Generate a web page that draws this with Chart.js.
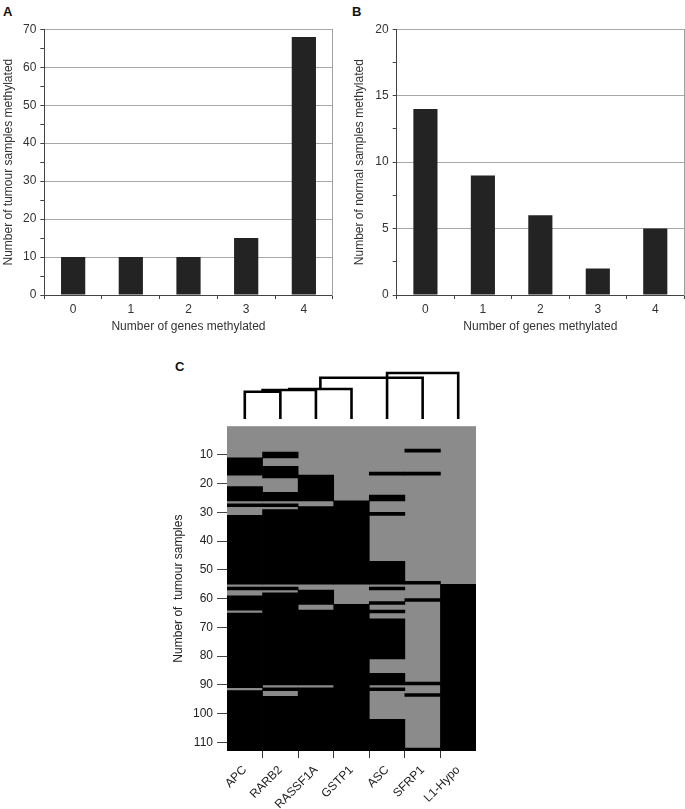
<!DOCTYPE html>
<html lang="en">
<head>
<meta charset="UTF-8" />
<title>Gene methylation in tumour and normal samples</title>
<script src="https://cdn.jsdelivr.net/npm/chart.js@4.4.1/dist/chart.umd.min.js"></script>
<style>
  body { margin: 0; width: 685px; height: 809px; position: relative; background: #fff; overflow: hidden;
         font-family: 'Liberation Sans', Arial, sans-serif; }
  .panel { position: absolute; font-weight: bold; font-size: 13px; color: #111; }
  canvas { position: absolute; }
</style>
</head>
<body>
<div class="panel" style="left:3px;top:4px">A</div>
<div class="panel" style="left:352px;top:4px">B</div>
<div class="panel" style="left:175px;top:359px">C</div>
<canvas id="chartA" width="340" height="330" style="left:0;top:14px"></canvas>
<canvas id="chartB" width="345" height="330" style="left:340px;top:14px"></canvas>
<canvas id="dendro" width="249" height="55" style="left:227px;top:364px"></canvas>
<canvas id="heat" width="320" height="394" style="left:170px;top:415px"></canvas>

<script>
// panels A and B
const geneCounts = ['0', '1', '2', '3', '4'];
const tumourSamples = [10, 10, 10, 15, 68];
const normalSamples = [14, 9, 6, 2, 5];

// panel C: rows (samples) where each gene is methylated, as [from, to]
const genes = ['APC', 'RARB2', 'RASSF1A', 'GSTP1', 'ASC', 'SFRP1', 'L1-Hypo'];
const sampleTicks = [10, 20, 30, 40, 50, 60, 70, 80, 90, 100, 110];
const nSamples = 113;
const apcRuns = [[11, 17], [21, 26], [27, 28], [31, 55], [56, 57], [59, 64], [65, 91], [92, 113]];
const rarb2Runs = [[9, 11], [14, 18], [23, 26], [27, 28], [29, 55], [56, 57], [58, 90], [91, 92], [94, 113]];
const rassf1aRuns = [[17, 26], [28, 55], [57, 62], [64, 90], [91, 113]];
const gstp1Runs = [[26, 55], [62, 113]];
const ascRuns = [[16, 17], [24, 26], [30, 31], [47, 55], [56, 57], [61, 62], [64, 65], [67, 81], [86, 90], [91, 92], [102, 113]];
const sfrp1Runs = [[8, 9], [16, 17], [54, 55], [60, 61], [89, 90], [93, 94], [112, 113]];
const l1HypoRuns = [[55, 113]];

// dendrogram merges (x in column units, heights in tree units)
const dendroLeftX = [0, 0.5, 1.25, 2.125, 4];
const dendroRightX = [1, 2, 3, 5, 6];
const dendroLeftBase = [0, 27.3, 29, 30, 0];
const dendroRightBase = [0, 0, 0, 0, 0];
const dendroHeight = [27.3, 29, 30, 41.3, 46];

Chart.defaults.font.family = "'Liberation Sans', Arial, sans-serif";
Chart.defaults.font.size = 12;
Chart.defaults.color = '#333';
Chart.defaults.animation = false;
Chart.defaults.plugins.legend.display = false;
Chart.defaults.plugins.tooltip.enabled = false;

function barChart(id, values, max, step, labelStep, yTitle, yWidth, titlePad, padding) {
  return new Chart(document.getElementById(id), {
    type: 'bar',
    data: {
      labels: geneCounts,
      datasets: [{
        data: values,
        backgroundColor: '#232323',
        barPercentage: 0.42,
        categoryPercentage: 1
      }]
    },
    options: {
      responsive: false,
      layout: { padding: padding },
      scales: {
        x: {
          offset: true,
          grid: { offset: true, drawOnChartArea: false, tickLength: 4, tickColor: '#444' },
          border: { color: '#444' },
          ticks: { padding: 3, color: '#333' },
          title: { display: true, text: 'Number of genes methylated', color: '#333', padding: { top: 0, bottom: 10 } },
          afterFit: s => { s.height = 49; }
        },
        y: {
          min: 0,
          max: max,
          ticks: {
            stepSize: step,
            padding: 4,
            color: '#333',
            callback: v => (v % labelStep === 0 ? v : '')
          },
          grid: {
            tickLength: 4,
            tickColor: '#444',
            color: c => (c.tick && c.tick.value > 0 && c.tick.value % labelStep === 0 ? '#a8a8a8' : 'rgba(0,0,0,0)')
          },
          border: { color: '#444' },
          title: { display: true, text: yTitle, color: '#333', padding: { top: titlePad, bottom: 0 } },
          afterFit: s => { s.width = yWidth; }
        },
        y2: {
          position: 'right',
          ticks: { display: false },
          grid: { display: false, drawTicks: false },
          border: { color: '#a0a0a0' },
          afterFit: s => { s.width = 0; }
        }
      }
    }
  });
}

barChart('chartA', tumourSamples, 70, 5, 10, 'Number of tumour samples methylated', 44.3, 1,
  { top: 15.3, right: 7.3, bottom: 0, left: 0 });
barChart('chartB', normalSamples, 20, 2.5, 5, 'Number of normal samples methylated', 56.7, 12.8,
  { top: 15.3, right: 1, bottom: 0, left: 0 });

// dendrogram above the heatmap
const dendroSets = dendroHeight.map((h, i) => ({
  data: [
    { x: dendroLeftX[i], y: dendroLeftBase[i] },
    { x: dendroLeftX[i], y: h },
    { x: dendroRightX[i], y: h },
    { x: dendroRightX[i], y: dendroRightBase[i] }
  ],
  showLine: true,
  borderColor: '#000',
  borderWidth: 2.6,
  borderJoinStyle: 'miter',
  pointRadius: 0,
  clip: false
}));

new Chart(document.getElementById('dendro'), {
  type: 'scatter',
  data: { datasets: dendroSets },
  options: {
    responsive: false,
    layout: { padding: 0 },
    scales: {
      x: { type: 'linear', min: -0.5, max: genes.length - 0.5, display: false },
      y: { min: 0, max: 55, display: false }
    }
  }
});

// heatmap
const runsByGene = [apcRuns, rarb2Runs, rassf1aRuns, gstp1Runs, ascRuns, sfrp1Runs, l1HypoRuns];
const cells = [];
runsByGene.forEach((runs, i) => runs.forEach(r => cells.push({ x: genes[i], y: r })));

const areaFill = {
  id: 'areaFill',
  beforeDatasetsDraw(chart, args, opts) {
    const a = chart.chartArea;
    chart.ctx.save();
    chart.ctx.fillStyle = opts.color;
    chart.ctx.fillRect(a.left, a.top, a.right - a.left, a.bottom - a.top);
    chart.ctx.restore();
  }
};

new Chart(document.getElementById('heat'), {
  type: 'bar',
  data: {
    labels: genes,
    datasets: [{
      data: cells,
      backgroundColor: '#000',
      borderWidth: 0,
      borderSkipped: false,
      barPercentage: 1,
      categoryPercentage: 1,
      grouped: false
    }]
  },
  plugins: [areaFill],
  options: {
    responsive: false,
    layout: { padding: { top: 6, right: 14, bottom: 0, left: 0 } },
    plugins: { areaFill: { color: '#8b8b8b' } },
    scales: {
      x: {
        offset: true,
        grid: {
          offset: true,
          drawOnChartArea: false,
          tickLength: 7,
          tickColor: c => (c.index > 0 ? '#333' : 'rgba(0,0,0,0)')
        },
        border: { display: false },
        ticks: { minRotation: 45, maxRotation: 45, autoSkip: false, padding: 5, color: '#222' },
        afterFit: s => { s.height = 58; }
      },
      y: {
        reverse: true,
        min: 0,
        max: nSamples,
        afterBuildTicks: s => { s.ticks = sampleTicks.map(v => ({ value: v })); },
        ticks: { autoSkip: false, padding: 4, color: '#222' },
        grid: { drawOnChartArea: false, tickLength: 10, tickColor: '#444' },
        border: { display: false },
        title: { display: true, text: 'Number of  tumour samples', color: '#222', padding: { top: 1, bottom: 0 } },
        afterFit: s => { s.width = 57; }
      }
    }
  }
});
</script>
</body>
</html>
